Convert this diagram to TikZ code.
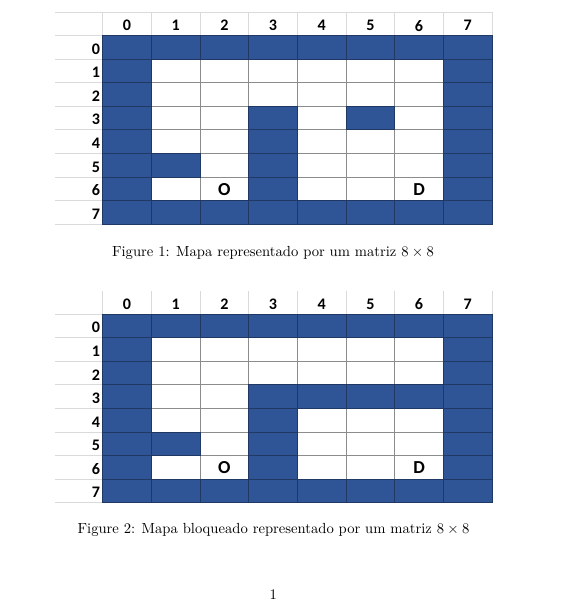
\documentclass[tikz,border=0pt]{standalone}
\usepackage{fontspec}
\newfontfamily\cellfont{Carlito}
\usepackage{tikz}
\definecolor{wallblue}{HTML}{2F5597}
\definecolor{wallline}{HTML}{1F3864}
\definecolor{gridgray}{HTML}{8C8C8C}
\definecolor{headgray}{HTML}{DADADA}

\begin{document}
\begin{tikzpicture}[x=0.683pt, y=-0.683pt,
    headline/.style={draw=headgray, line width=0.6pt},
    cellline/.style={draw=gridgray, line width=0.6pt},
    wall/.style={fill=wallblue, draw=wallline, line width=0.6pt},
    headnum/.style={inner sep=0pt, font=\cellfont\bfseries\fontsize{11}{13}\selectfont},
    rownum/.style={headnum, anchor=east},
    endpoint/.style={inner sep=0pt, font=\cellfont\bfseries\fontsize{12.5}{14}\selectfont},
    caption/.style={anchor=base, inner sep=0pt}]
  \useasboundingbox (0,0) rectangle (568,601);
  \fill [white] (0,0) rectangle (568,601);

  % mapa 1
  \begin{scope}[shift={(102.7,35.7)}, x=33.24pt, y=-16.08pt]
    \draw [headline] (-0.98,-1) -- (8,-1);                     %topo
    \foreach \r in {0,...,8} \draw [headline] (-0.98,\r) -- (0,\r);
    \foreach \c in {0,...,8} \draw [headline] (\c,-1) -- (\c,0);
    \foreach \i in {0,...,8} {\draw [cellline] (\i,0) -- (\i,8); \draw [cellline] (0,\i) -- (8,\i);}
    \foreach \c in {0,...,7} {\draw [wall] (\c,0) rectangle +(1,1); \draw [wall] (\c,7) rectangle +(1,1);}
    \foreach \r in {1,...,6} {\draw [wall] (0,\r) rectangle +(1,1); \draw [wall] (7,\r) rectangle +(1,1);}
    \foreach \r in {3,...,6} \draw [wall] (3,\r) rectangle +(1,1); %coluna 3
    \draw [wall] (5,3) rectangle +(1,1);                       %(3,5)
    \draw [wall] (1,5) rectangle +(1,1);                       %(5,1)
    \foreach \c in {0,...,7} \node [headnum] (a-h\c) at (\c+0.5,-0.43) {\c};
    \foreach \r in {0,...,7} \node [rownum] (a-r\r) at (-0.05,\r+0.57) {\r};
    \node [endpoint] (a-orig) at (2.5,6.53) {O};               %origem
    \node [endpoint] (a-dest) at (6.5,6.53) {D};               %destino
  \end{scope}
  \node [caption] (cap1) at (273,256.5) {Figure 1: Mapa representado por um matriz $8\times 8$};

  % mapa 2
  \begin{scope}[shift={(102.7,314.3)}, x=33.24pt, y=-16.08pt]
    \foreach \r in {0,...,8} \draw [headline] (-0.98,\r) -- (0,\r);
    \foreach \c in {0,...,8} \draw [headline] (\c,-1) -- (\c,0);
    \foreach \i in {0,...,8} {\draw [cellline] (\i,0) -- (\i,8); \draw [cellline] (0,\i) -- (8,\i);}
    \foreach \c in {0,...,7} {\draw [wall] (\c,0) rectangle +(1,1); \draw [wall] (\c,7) rectangle +(1,1);}
    \foreach \r in {1,...,6} {\draw [wall] (0,\r) rectangle +(1,1); \draw [wall] (7,\r) rectangle +(1,1);}
    \foreach \c in {4,...,6} \draw [wall] (\c,3) rectangle +(1,1); %linha 3 bloqueada
    \foreach \r in {3,...,6} \draw [wall] (3,\r) rectangle +(1,1); %coluna 3
    \draw [wall] (1,5) rectangle +(1,1);                       %(5,1)
    \foreach \c in {0,...,7} \node [headnum] (b-h\c) at (\c+0.5,-0.43) {\c};
    \foreach \r in {0,...,7} \node [rownum] (b-r\r) at (-0.05,\r+0.57) {\r};
    \node [endpoint] (b-orig) at (2.5,6.53) {O};               %origem
    \node [endpoint] (b-dest) at (6.5,6.53) {D};               %destino
  \end{scope}
  \node [caption] (cap2) at (273.5,533.3) {Figure 2: Mapa bloqueado representado por um matriz $8\times 8$};

  \node [caption] (pagenum) at (273.3,599) {1};
\end{tikzpicture}
\end{document}
